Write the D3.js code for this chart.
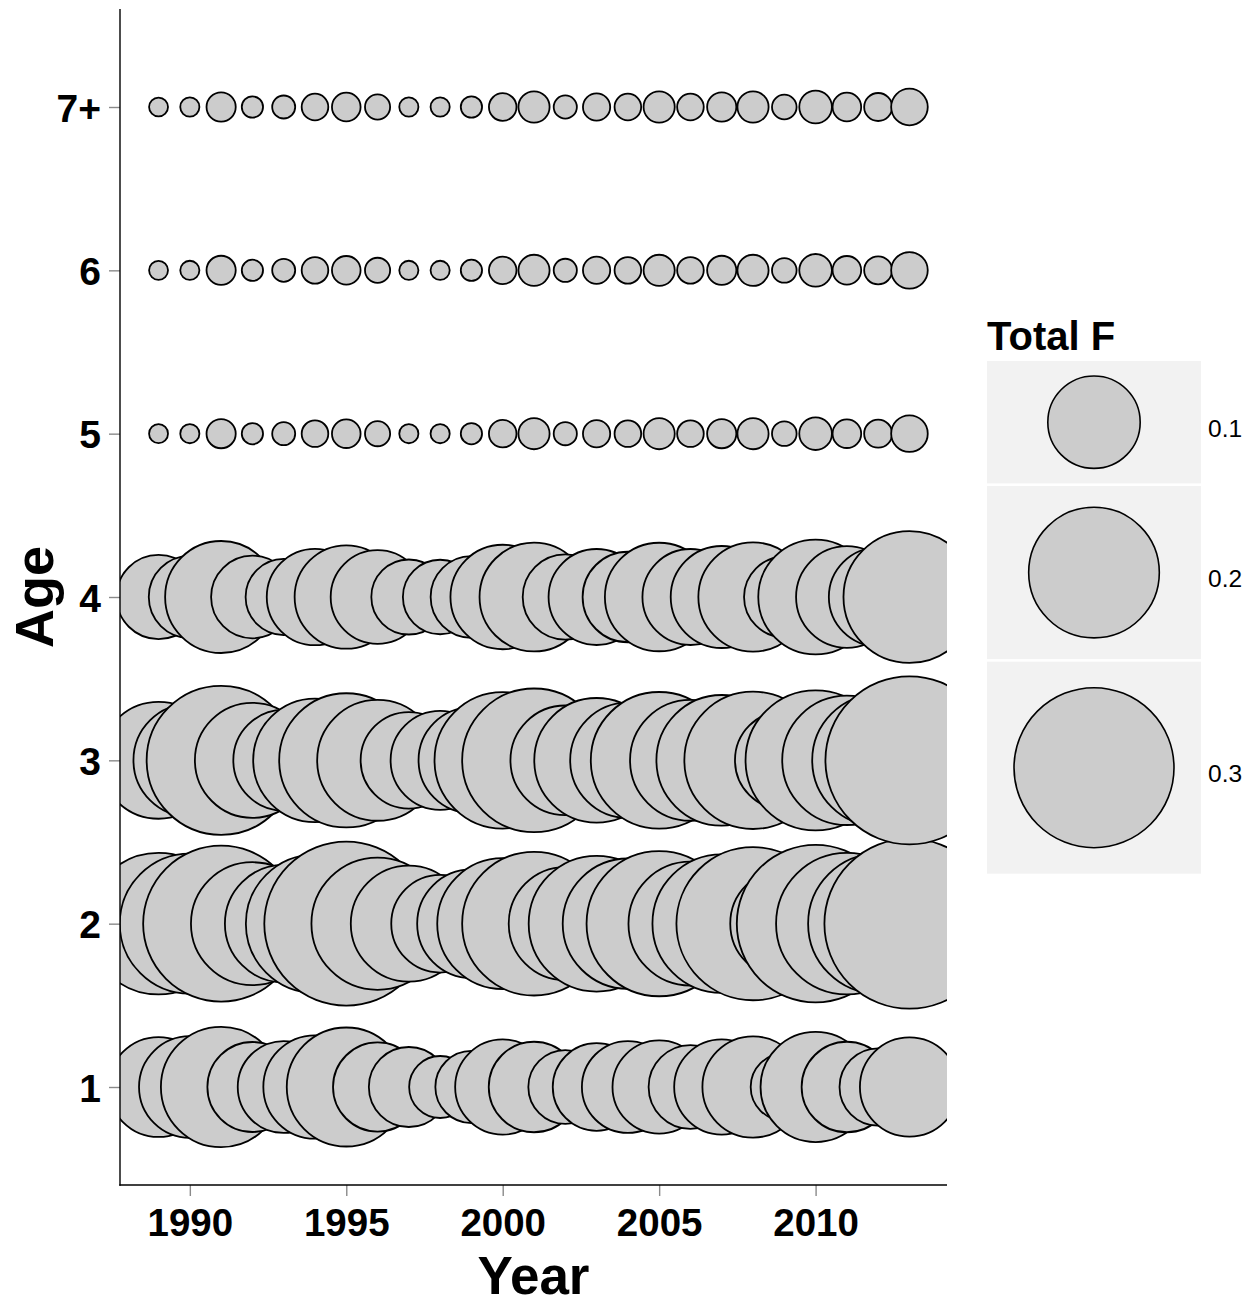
<!DOCTYPE html>
<html>
<head>
<meta charset="utf-8">
<script src="https://cdn.jsdelivr.net/npm/d3@7"></script>
<style>
  html, body { margin: 0; padding: 0; background: #fff; }
  svg { display: block; }
  text { font-family: "Liberation Sans", Arial, Helvetica, sans-serif; }
</style>
</head>
<body>
<script>
// ---------------- DATA ----------------
const years = [1989, 1990, 1991, 1992, 1993, 1994, 1995, 1996, 1997, 1998, 1999, 2000,
               2001, 2002, 2003, 2004, 2005, 2006, 2007, 2008, 2009, 2010, 2011, 2012, 2013];
const ages = ["1", "2", "3", "4", "5", "6", "7+"];

// Total F by age (one value per year)
const fAge1 = [0.117, 0.121, 0.170, 0.095, 0.099, 0.125, 0.166, 0.093, 0.075, 0.045, 0.061, 0.106,
               0.096, 0.064, 0.090, 0.099, 0.102, 0.082, 0.106, 0.120, 0.053, 0.142, 0.096, 0.070, 0.115];
const fAge2 = [0.235, 0.230, 0.285, 0.177, 0.162, 0.224, 0.315, 0.205, 0.158, 0.112, 0.138, 0.201,
               0.242, 0.150, 0.216, 0.199, 0.247, 0.180, 0.225, 0.275, 0.137, 0.291, 0.235, 0.230, 0.339];
const fAge3 = [0.160, 0.149, 0.260, 0.155, 0.119, 0.179, 0.211, 0.171, 0.109, 0.115, 0.131, 0.218,
               0.242, 0.141, 0.182, 0.156, 0.219, 0.171, 0.200, 0.221, 0.114, 0.230, 0.196, 0.204, 0.331];
const fAge4 = [0.083, 0.079, 0.147, 0.080, 0.068, 0.109, 0.125, 0.103, 0.066, 0.065, 0.078, 0.128,
               0.139, 0.085, 0.108, 0.096, 0.138, 0.108, 0.122, 0.140, 0.076, 0.154, 0.121, 0.114, 0.204];
const fAge5 = [0.0042, 0.0043, 0.0100, 0.0053, 0.0062, 0.0083, 0.0096, 0.0074, 0.0043, 0.0043, 0.0053, 0.0089,
               0.0114, 0.0063, 0.0087, 0.0083, 0.0114, 0.0083, 0.0100, 0.0114, 0.0071, 0.0125, 0.0096, 0.0092, 0.0157];
const fAge6 = [0.0042, 0.0043, 0.0100, 0.0053, 0.0062, 0.0083, 0.0096, 0.0074, 0.0043, 0.0043, 0.0053, 0.0089,
               0.0114, 0.0063, 0.0087, 0.0083, 0.0114, 0.0083, 0.0100, 0.0114, 0.0071, 0.0125, 0.0096, 0.0092, 0.0157];
const fAge7 = [0.0042, 0.0043, 0.0100, 0.0053, 0.0062, 0.0083, 0.0096, 0.0074, 0.0043, 0.0043, 0.0053, 0.0089,
               0.0114, 0.0063, 0.0087, 0.0083, 0.0114, 0.0083, 0.0100, 0.0114, 0.0071, 0.0125, 0.0096, 0.0092, 0.0157];

const xTickValues = [1990, 1995, 2000, 2005, 2010];
const legendBreaks = [0.1, 0.2, 0.3];
const legendLabels = ["0.1", "0.2", "0.3"];
const xTitle = "Year";
const yTitle = "Age";
const legendTitle = "Total F";

// ---------------- BUILD ----------------
const seriesByAge = [fAge1, fAge2, fAge3, fAge4, fAge5, fAge6, fAge7];
const points = [];
ages.forEach((a, i) => {
  years.forEach((yr, j) => points.push({ age: a, ageIndex: i + 1, year: yr, f: seriesByAge[i][j] }));
});

const W = 1258, H = 1306;
const panel = { left: 120, right: 947, top: 9, bottom: 1185 };

const x = d3.scaleLinear().domain([1987.8, 2014.2]).range([121, 947]);
const y = d3.scaleLinear().domain([0.4, 7.6]).range([1185, 9]);
const r = d3.scaleSqrt().domain([0, 0.3]).range([0, 80]);

const svg = d3.select("body").append("svg").attr("width", W).attr("height", H);

svg.append("defs").append("clipPath").attr("id", "panelClip")
  .append("rect")
  .attr("x", panel.left).attr("y", panel.top)
  .attr("width", panel.right - panel.left).attr("height", panel.bottom - panel.top);

// bubbles
svg.append("g").attr("clip-path", "url(#panelClip)")
  .selectAll("circle").data(points).join("circle")
  .attr("cx", d => x(d.year))
  .attr("cy", d => y(d.ageIndex))
  .attr("r", d => r(d.f))
  .attr("fill", "#cccccc")
  .attr("stroke", "#000")
  .attr("stroke-width", 1.8);

// x axis
const xAxis = d3.axisBottom(x).tickValues(xTickValues).tickFormat(d3.format("d"))
  .tickSize(11).tickPadding(13);
const gx = svg.append("g").attr("transform", `translate(0,${panel.bottom})`).call(xAxis);
gx.select(".domain").remove();
gx.selectAll(".tick line").attr("stroke", "#8a8a8a").attr("stroke-width", 1.4);
gx.selectAll(".tick text")
  .attr("font-size", 38.5).attr("font-weight", "bold").attr("fill", "#000")
  .attr("font-family", "'Liberation Sans', Arial, sans-serif")
  .attr("dy", "0.71em");

// y axis
const yAxis = d3.axisLeft(y).tickValues(ages.map((a, i) => i + 1))
  .tickFormat((d, i) => ages[i]).tickSize(11).tickPadding(8);
const gy = svg.append("g").attr("transform", `translate(${panel.left},0)`).call(yAxis);
gy.select(".domain").remove();
gy.selectAll(".tick line").attr("stroke", "#8a8a8a").attr("stroke-width", 1.4);
gy.selectAll(".tick text")
  .attr("font-size", 39).attr("font-weight", "bold").attr("fill", "#000")
  .attr("font-family", "'Liberation Sans', Arial, sans-serif")
  .attr("dy", "0.36em");

// axis lines
svg.append("line").attr("x1", panel.left).attr("x2", panel.left)
  .attr("y1", panel.top).attr("y2", panel.bottom + 0.7)
  .attr("stroke", "#000").attr("stroke-width", 1.4);
svg.append("line").attr("x1", panel.left - 0.7).attr("x2", panel.right)
  .attr("y1", panel.bottom).attr("y2", panel.bottom)
  .attr("stroke", "#000").attr("stroke-width", 1.4);

// axis titles
svg.append("text").attr("x", (panel.left + panel.right) / 2).attr("y", 1294)
  .attr("text-anchor", "middle").attr("font-size", 53).attr("font-weight", "bold")
  .text(xTitle);
svg.append("text")
  .attr("transform", `translate(52.5,${(panel.top + panel.bottom) / 2}) rotate(-90)`)
  .attr("text-anchor", "middle").attr("font-size", 54).attr("font-weight", "bold")
  .text(yTitle);

// legend
const lg = svg.append("g");
lg.append("text").attr("x", 987).attr("y", 350)
  .attr("font-size", 40).attr("font-weight", "bold").text(legendTitle);

const keyX = 987, keyW = 214, keyGap = 2.6;
let keyTop = 361;
legendBreaks.forEach((b, i) => {
  const rr = r(b);
  const h = 2 * rr * 1.325;
  const cy = keyTop + h / 2;
  lg.append("rect").attr("x", keyX).attr("y", keyTop).attr("width", keyW).attr("height", h)
    .attr("fill", "#f2f2f2");
  lg.append("circle").attr("cx", keyX + keyW / 2).attr("cy", cy).attr("r", rr)
    .attr("fill", "#cccccc").attr("stroke", "#000").attr("stroke-width", 1.6);
  lg.append("text").attr("x", 1208).attr("y", cy + 14.5)
    .attr("font-size", 24.5).attr("fill", "#000").text(legendLabels[i]);
  keyTop += h + keyGap;
});
</script>
</body>
</html>
